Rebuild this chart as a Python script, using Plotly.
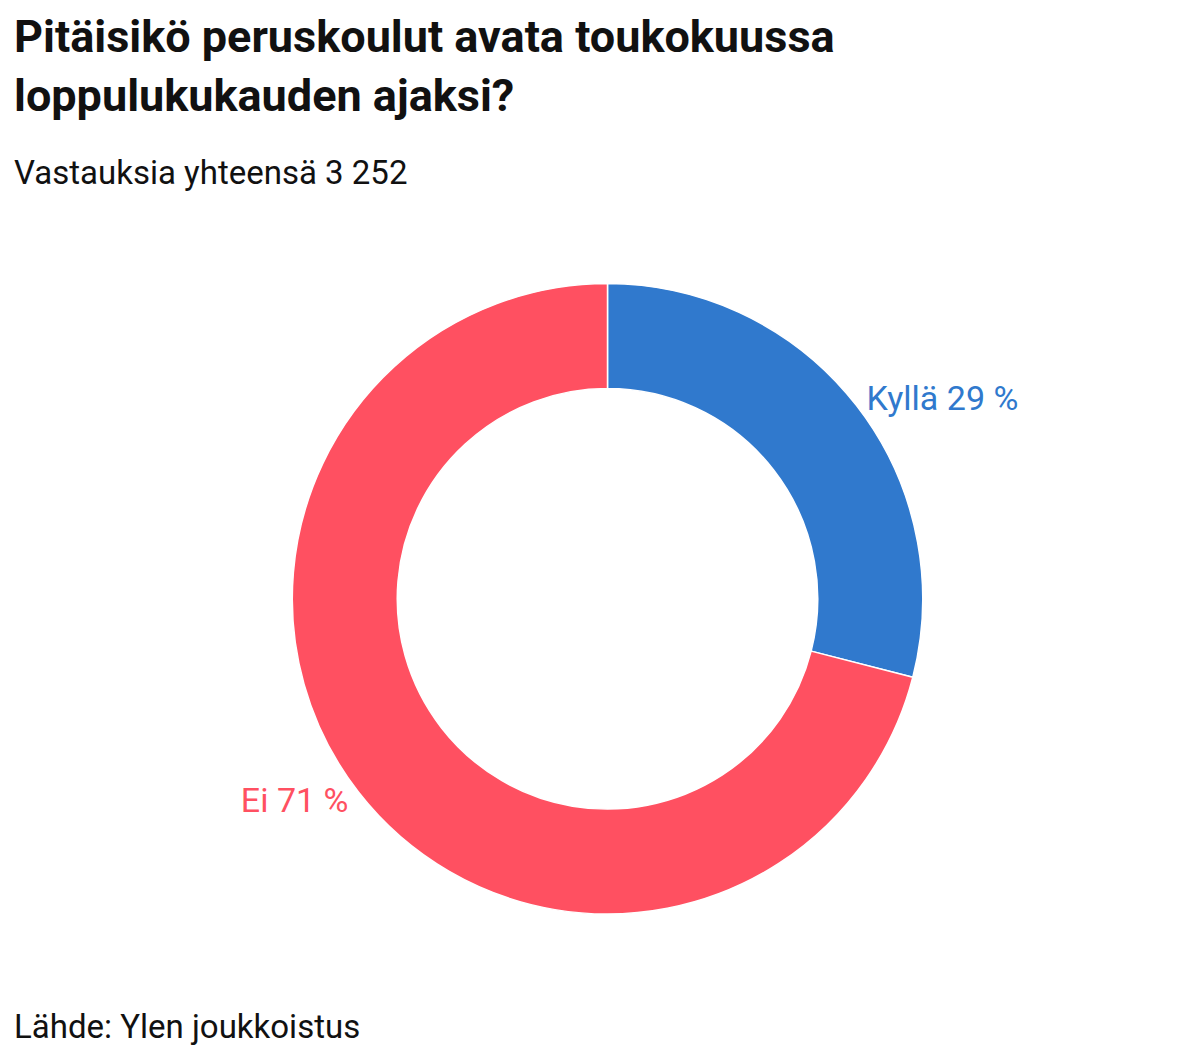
import plotly.graph_objects as go

labels = ["Kyllä", "Ei"]
values = [29, 71]
colors = ["#3079CD", "#FF5061"]
texts = [f"{l} {v} %" for l, v in zip(labels, values)]

fig = go.Figure(go.Pie(
    labels=labels, values=values, text=texts, textinfo="text",
    textposition="outside", hole=0.667, sort=False, direction="clockwise", rotation=0,
    automargin=False,
    marker=dict(colors=colors, line=dict(color="white", width=1.5)),
    outsidetextfont=dict(color=colors, size=34, family="Roboto"),
    domain=dict(x=[0, 1], y=[0.142, 0.739]), showlegend=False, hoverinfo="skip",
))
fig.update_layout(
    width=1199, height=1056, margin=dict(l=0, r=0, t=0, b=0, autoexpand=False),
    paper_bgcolor="white", font=dict(family="Roboto", color="#111"),
    annotations=[
        dict(text="<b>Pitäisikö peruskoulut avata toukokuussa<br>loppulukukauden ajaksi?</b>",
             x=0.003, y=1.0, xref="paper", yref="paper", xanchor="left", yanchor="top",
             align="left", showarrow=False, font=dict(size=45, color="#111")),
        dict(text="Vastauksia yhteensä 3 252", x=0.003, y=0.865, xref="paper", yref="paper",
             xanchor="left", yanchor="top", showarrow=False, font=dict(size=33, color="#111")),
        dict(text="Lähde: Ylen joukkoistus", x=0.003, y=0.015, xref="paper", yref="paper",
             xanchor="left", yanchor="bottom", showarrow=False, font=dict(size=33, color="#111")),
    ],
)
fig.write_html("out.html")
